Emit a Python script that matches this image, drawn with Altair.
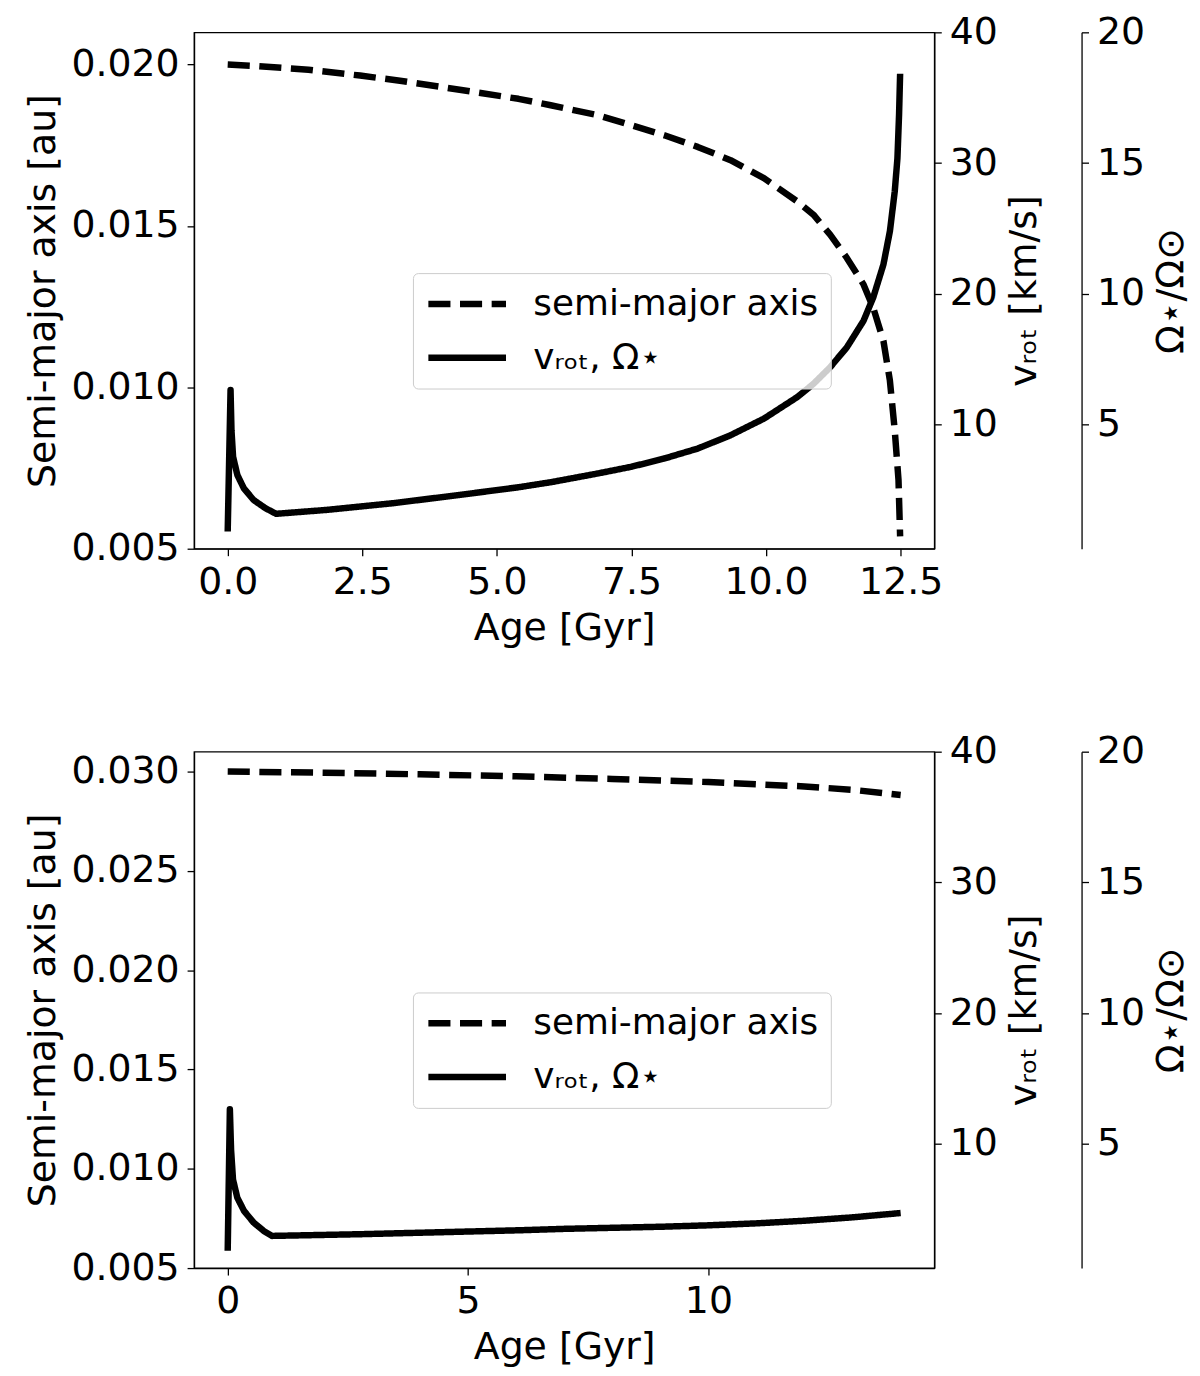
import altair as alt
import pandas as pd

FONT = "DejaVu Sans"
SMA_LABEL = "semi-major axis"
VROT_LABEL = "vᵣₒₜ, Ω⋆"

# ---------------- top panel ----------------
top_age_sma = [0.00, 0.50, 1.00, 1.50, 2.46, 3.20, 4.00, 4.70, 5.40, 6.00, 6.88, 7.50,
               8.11, 8.73, 9.34, 9.96, 10.58, 10.88, 11.19, 11.50, 11.81, 11.99, 12.18,
               12.30, 12.39, 12.46, 12.49]
top_sma = [0.02000, 0.01996, 0.01990, 0.01984, 0.01966, 0.01950, 0.01930, 0.01912, 0.01894,
           0.01874, 0.01843, 0.01812, 0.01781, 0.01745, 0.01704, 0.01648, 0.01576, 0.01535,
           0.01473, 0.01401, 0.01319, 0.01247, 0.01144, 0.01021, 0.00867, 0.00713, 0.00538]

top_age_vrot = [0.00, 0.053, 0.07, 0.10, 0.18, 0.30, 0.48, 0.70, 0.90, 1.84, 3.07, 4.30,
                5.40, 6.02, 6.88, 7.50, 8.11, 8.73, 9.34, 9.96, 10.58, 10.88, 11.19,
                11.50, 11.81, 11.99, 12.18, 12.30, 12.39, 12.44, 12.47, 12.49]
top_vrot = [1.82, 12.65, 9.56, 7.53, 6.13, 5.12, 4.23, 3.60, 3.17, 3.47, 3.98, 4.61,
            5.20, 5.60, 6.26, 6.77, 7.40, 8.16, 9.18, 10.45, 12.10, 13.11, 14.38,
            15.90, 17.93, 19.71, 22.24, 24.78, 27.82, 30.36, 33.66, 36.83]

# ---------------- bottom panel ----------------
bot_age_sma = [0.0, 2.0, 4.0, 6.0, 8.0, 10.0, 12.0, 13.0, 14.0]
bot_sma = [0.03000, 0.02994, 0.02986, 0.02976, 0.02963, 0.02947, 0.02925, 0.02908, 0.02882]

bot_age_vrot = [0.00, 0.045, 0.07, 0.11, 0.20, 0.34, 0.54, 0.75, 0.92, 2.75, 6.05,
                7.0, 8.0, 9.0, 10.0, 11.0, 12.0, 13.0, 14.0]
bot_vrot = [1.82, 12.65, 9.56, 7.28, 5.88, 4.87, 3.98, 3.34, 2.96, 3.09, 3.39,
            3.50, 3.58, 3.66, 3.77, 3.92, 4.12, 4.38, 4.71]

# axis settings
top_x_domain = [-0.625, 13.125]
top_x_ticks = [0.0, 2.5, 5.0, 7.5, 10.0, 12.5]
bot_x_domain = [-0.7, 14.7]
bot_x_ticks = [0, 5, 10]
top_sma_domain = [0.005, 0.021]
top_sma_ticks = [0.005, 0.010, 0.015, 0.020]
bot_sma_domain = [0.005, 0.031]
bot_sma_ticks = [0.005, 0.010, 0.015, 0.020, 0.025, 0.030]
vrot_domain = [0.5, 40]
vrot_ticks = [10, 20, 30, 40]

W, H = 744, 519
LW = 6.5


def panel(age_a, sma, age_v, vrot, x_domain, x_ticks, x_fmt, sma_domain, sma_ticks):
    df_a = pd.DataFrame({"age": age_a, "value": sma, "series": SMA_LABEL})
    df_v = pd.DataFrame({"age": age_v, "value": vrot, "series": VROT_LABEL})

    x = alt.X("age:Q",
              scale=alt.Scale(domain=x_domain, nice=False, zero=False),
              axis=alt.Axis(title="Age [Gyr]", values=x_ticks, format=x_fmt))
    dash = alt.StrokeDash(
        "series:N",
        scale=alt.Scale(domain=[SMA_LABEL, VROT_LABEL], range=[[22.2, 9.6], [1, 0]]),
        legend=alt.Legend(
            title=None, orient="none", legendX=220, legendY=242,
            symbolType="stroke", symbolSize=6084, symbolStrokeWidth=LW,
            symbolStrokeColor="black", labelFont=FONT, labelFontSize=36,
            labelColor="black", labelOffset=24, labelLimit=500, padding=12,
            rowPadding=16, clipHeight=38, fillColor="rgba(255,255,255,0.8)",
            strokeColor="#cccccc", cornerRadius=5,
        ),
    )

    l1 = alt.Chart(df_a).mark_line(color="black", strokeWidth=LW, strokeJoin="round").encode(
        x=x,
        y=alt.Y("value:Q",
                scale=alt.Scale(domain=sma_domain, nice=False, zero=False),
                axis=alt.Axis(title="Semi-major axis [au]", values=sma_ticks,
                              format=".3f", orient="left")),
        strokeDash=dash,
    )
    l2 = alt.Chart(df_v).mark_line(color="black", strokeWidth=LW, strokeJoin="round").encode(
        x=x,
        y=alt.Y("value:Q",
                scale=alt.Scale(domain=vrot_domain, nice=False, zero=False),
                axis=alt.Axis(title="vᵣₒₜ [km/s]", values=vrot_ticks, format="d",
                              orient="right", titleAngle=270, titleBaseline="top")),
        strokeDash=dash,
    )
    l3 = alt.Chart(df_v).mark_line(color="black", opacity=0).encode(
        x=x,
        y=alt.Y("value:Q",
                scale=alt.Scale(domain=vrot_domain, nice=False, zero=False),
                axis=alt.Axis(title="Ω⋆/Ω⊙", values=vrot_ticks,
                              labelExpr="datum.value / 2", orient="right", offset=148,
                              titleAngle=270, titleBaseline="top")),
    )
    return alt.layer(l1, l2, l3).resolve_scale(y="independent").properties(width=W, height=H)


top = panel(top_age_sma, top_sma, top_age_vrot, top_vrot,
            top_x_domain, top_x_ticks, ".1f", top_sma_domain, top_sma_ticks)
bottom = panel(bot_age_sma, bot_sma, bot_age_vrot, bot_vrot,
               bot_x_domain, bot_x_ticks, "d", bot_sma_domain, bot_sma_ticks)

chart = alt.vconcat(top, bottom, spacing=204, bounds="flush").resolve_scale(
    strokeDash="independent", x="independent").resolve_legend(strokeDash="independent").properties(
    padding={"left": 16, "top": 1, "right": 0, "bottom": 0}, background="white"
).configure_axis(
    domainColor="black", domainWidth=1.3, tickColor="black", tickWidth=1.3, tickSize=7,
    labelFont=FONT, labelFontSize=38, labelColor="black", labelPadding=8,
    titleFont=FONT, titleFontSize=38, titleFontWeight="normal", titleColor="black",
    titlePadding=8, grid=False, labelFlush=False, labelOverlap=False,
).configure_view(stroke="black", strokeWidth=1.3)

chart.save("out.html", embed_options={"renderer": "svg", "actions": False})
